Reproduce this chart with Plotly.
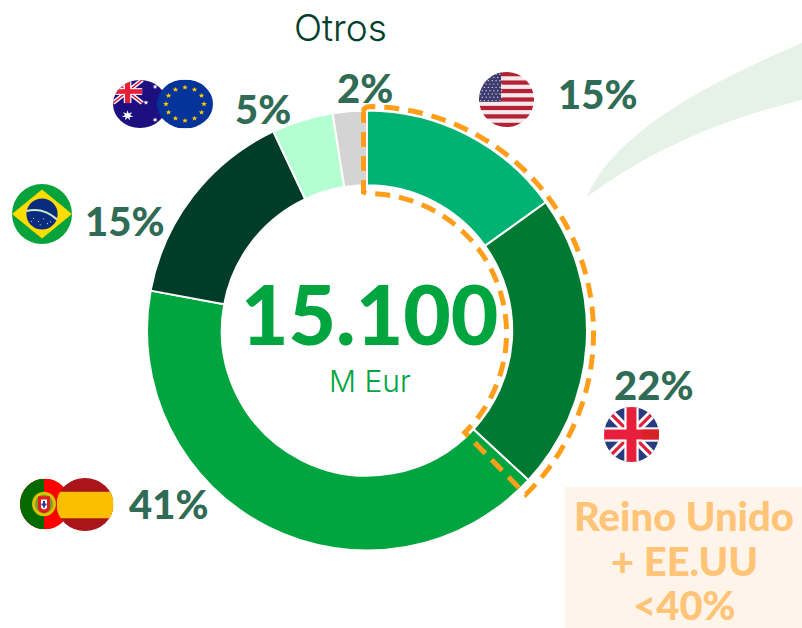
import base64, math
import plotly.graph_objects as go

W, H = 802, 628
categories = ["EE.UU", "Reino Unido", "Portugal + España", "Brasil", "Australia + UE", "Otros"]
share_values = [15.1, 21.8, 41.0, 15.1, 4.5, 2.5]
share_labels = ["15%", "22%", "41%", "15%", "5%", "2%"]
slice_colors = ["#00B274", "#007A33", "#00A53F", "#003D29", "#B4FFD2", "#D4D4D4"]
center_value = "15.100"
center_unit = "M Eur"
callout_lines = ["Reino Unido", "+ EE.UU", "<40%"]
FONT = "Lato"
FONT_LIGHT = "Inter"


def px(x): return x / W
def py(y): return 1 - y / H


def pth(points, close=False):
    s = "M" + " L".join(f"{px(x):.5f},{py(y):.5f}" for x, y in points)
    return s + (" Z" if close else "")


def svg_uri(body):
    svg = ('<svg xmlns="http://www.w3.org/2000/svg" xmlns:xlink="http://www.w3.org/1999/xlink" '
           'viewBox="-50 -50 100 100" preserveAspectRatio="none" width="200" height="200">'
           '<defs><clipPath id="c"><circle r="50"/></clipPath></defs>'
           f'<g clip-path="url(#c)">{body}</g></svg>')
    return "data:image/svg+xml;base64," + base64.b64encode(svg.encode()).decode()


def star(cx, cy, r, fill, n=5):
    pts = []
    for i in range(2 * n):
        a = -math.pi / 2 + i * math.pi / n
        q = r if i % 2 == 0 else r * 0.42
        pts.append(f"{cx + q * math.cos(a):.2f},{cy + q * math.sin(a):.2f}")
    return f'<polygon points="{" ".join(pts)}" fill="{fill}"/>'


def union(x0, y0, x1, y1):
    cx, cy = (x0 + x1) / 2, (y0 + y1) / 2
    w, h = x1 - x0, y1 - y0
    k = w / 100
    return (f'<line x1="{x0}" y1="{y0}" x2="{x1}" y2="{y1}" stroke="#fff" stroke-width="{16*k}"/>'
            f'<line x1="{x0}" y1="{y1}" x2="{x1}" y2="{y0}" stroke="#fff" stroke-width="{16*k}"/>'
            f'<line x1="{x0}" y1="{y0}" x2="{x1}" y2="{y1}" stroke="#E21F3A" stroke-width="{6*k}"/>'
            f'<line x1="{x0}" y1="{y1}" x2="{x1}" y2="{y0}" stroke="#E21F3A" stroke-width="{6*k}"/>'
            f'<rect x="{x0}" y="{cy-13*k}" width="{w}" height="{26*k}" fill="#fff"/>'
            f'<rect x="{cx-13*k}" y="{y0}" width="{26*k}" height="{h}" fill="#fff"/>'
            f'<rect x="{x0}" y="{cy-9*k}" width="{w}" height="{18*k}" fill="#E81F3A"/>'
            f'<rect x="{cx-9*k}" y="{y0}" width="{18*k}" height="{h}" fill="#E81F3A"/>')


usa = '<rect x="-50" y="-50" width="100" height="100" fill="#F3E9EC"/>'
for i in range(0, 13, 2):
    usa += f'<rect x="-50" y="{-50 + i * 100 / 13:.2f}" width="100" height="{100 / 13:.2f}" fill="#B22234"/>'
usa += '<rect x="-50" y="-50" width="40" height="54" fill="#3C3B6E"/>'
for r in range(9):
    for c in range(6):
        usa += f'<circle cx="{-47 + c * 7 + (r % 2) * 3}" cy="{-46 + r * 6}" r="1.3" fill="#D5D5E5"/>'

uk = '<rect x="-50" y="-50" width="100" height="100" fill="#2A3A7E"/>' + union(-50, -50, 50, 50)
uk += '<rect x="20" y="-9" width="30" height="18" fill="#D82128"/>'

aus = '<rect x="-50" y="-50" width="100" height="100" fill="#1E0F80"/>' + union(-50, -50, 4, -2)
aus += star(-23, 24, 11, "#fff", 7)
for sx, sy, sr in [(28, -36, 5), (11, -3, 5), (46, -16, 5), (36, 8, 3), (28, 33, 5)]:
    aus += star(sx, sy, sr, "#fff", 7)

eu = '<rect x="-50" y="-50" width="100" height="100" fill="#043399"/>'
for i in range(12):
    a = math.radians(i * 30)
    eu += star(34 * math.sin(a), -34 * math.cos(a), 5.5, "#FFCC00")

brazil = ('<rect x="-50" y="-50" width="100" height="100" fill="#06A23C"/>'
          '<polygon points="-50,0 0,-41 50,0 0,41" fill="#FFDD00"/>'
          '<circle r="26" fill="#0A2C7E"/>'
          '<path d="M-26,-5 Q2,-12 25,9" stroke="#CDEBCB" stroke-width="3.5" fill="none"/>')
for sx, sy in [(-14, 7), (-6, 12), (3, 8), (9, 16), (-3, 18), (14, 13), (-18, 12)]:
    brazil += f'<circle cx="{sx}" cy="{sy}" r="0.9" fill="#fff"/>'

portugal = ('<rect x="-50" y="-50" width="100" height="100" fill="#FF0000"/>'
            '<rect x="-50" y="-50" width="48" height="100" fill="#046A00"/>'
            '<circle cx="-2" cy="0" r="24" fill="#D8C400"/>'
            '<circle cx="-2" cy="0" r="18" fill="#7E9A2A"/>'
            '<path d="M-14,-15 H10 V6 Q10,16 -2,18 Q-14,16 -14,6 Z" fill="#E01E1E"/>'
            '<path d="M-8,-9 H4 V5 Q4,10 -2,11 Q-8,10 -8,5 Z" fill="#fff"/>'
            '<rect x="-4" y="-6" width="4" height="13" fill="#1B3E9B"/>'
            '<rect x="-7" y="-1" width="10" height="4" fill="#1B3E9B"/>')

spain = ('<rect x="-50" y="-50" width="100" height="100" fill="#AA151B"/>'
         '<rect x="-50" y="-24" width="100" height="50" fill="#FBBE00"/>')

flags = [
    (portugal, 45, 504, 50, 51),
    (spain, 85, 504.5, 57, 53),
    (aus, 140, 104, 54, 48),
    (eu, 185, 104, 56, 49),
    (brazil, 42, 214, 60, 60),
    (usa, 506.5, 99.5, 55, 55),
    (uk, 631.5, 434.5, 55, 55),
]

# orange dashed outline of the UK + USA ring section
CX, CY, R_OUT, R_IN = 367, 333, 226.5, 139.5
A_END = 135.5


def polar(r, deg):
    a = math.radians(deg)
    return CX + r * math.sin(a), CY - r * math.cos(a)


outline = [(363.5, 112), (364, 109), (367, 107)]
outline += [polar(R_OUT, d) for d in [A_END * i / 120 for i in range(1, 121)]]
outline += [polar(R_IN, d) for d in [A_END * (120 - i) / 120 for i in range(0, 119)]]
outline += [(367, 193.5), (363.5, 192), (363.5, 112)]

shapes = [
    dict(type="path", xref="paper", yref="paper", fillcolor="#E6F1E8", line=dict(width=0), layer="below",
         path=f"M{px(587)},{py(197)} C{px(610)},{py(140)} {px(690)},{py(90)} {px(802)},{py(43)} "
              f"L{px(802)},{py(100)} C{px(720)},{py(120)} {px(650)},{py(150)} {px(587)},{py(197)} Z"),
    dict(type="rect", xref="paper", yref="paper", x0=px(565), x1=px(802), y0=py(487), y1=py(628),
         fillcolor="#FEF4E9", line=dict(width=0), layer="below"),
    dict(type="path", xref="paper", yref="paper", path=pth(outline), layer="above",
         line=dict(color="#FF9E1B", width=5, dash="15px,9px")),
]

images = [dict(source=svg_uri(b), xref="paper", yref="paper", x=px(x), y=py(y), sizex=w / W, sizey=h / H,
               xanchor="center", yanchor="middle", sizing="stretch", layer="above")
          for b, x, y, w, h in flags]


def note(text, x, y, size, color, weight="normal", family=FONT):
    return dict(text=text, x=px(x), y=py(y), xref="paper", yref="paper", showarrow=False,
                xanchor="center", yanchor="middle",
                font=dict(family=family, size=size, color=color, weight=weight))


PCT = "#2F6B55"
label_xy = [(597, 94), (653, 385), (168, 504), (124, 221), (263, 109), (365, 88)]
annotations = [note(t, x, y, 40, PCT, 900) for t, (x, y) in zip(share_labels, label_xy)]
annotations += [
    note("Otros", 340, 28, 37, "#00402B", 300, FONT_LIGHT),
    note(center_value, 369, 313, 82, "#00A53F", 900),
    note(center_unit, 370, 381, 30, "#00A53F", 300, FONT_LIGHT),
]
annotations += [note(t, 684, y, 40, "#FFC477", 900) for t, y in zip(callout_lines, [516, 561, 605])]

fig = go.Figure(go.Pie(
    labels=categories, values=share_values, sort=False, direction="clockwise", rotation=0,
    hole=0.66, textinfo="none", showlegend=False, hoverinfo="label+percent",
    marker=dict(colors=slice_colors, line=dict(color="#FFFFFF", width=2)),
    domain=dict(x=[147 / W, 587 / W], y=[1 - 551 / H, 1 - 110 / H]),
))
fig.update_layout(width=W, height=H, margin=dict(l=0, r=0, t=0, b=0), paper_bgcolor="#FFFFFF",
                  shapes=shapes, images=images, annotations=annotations)
fig.write_html("out.html", post_script="document.body.style.margin='0';",
               config=dict(displayModeBar=False))
